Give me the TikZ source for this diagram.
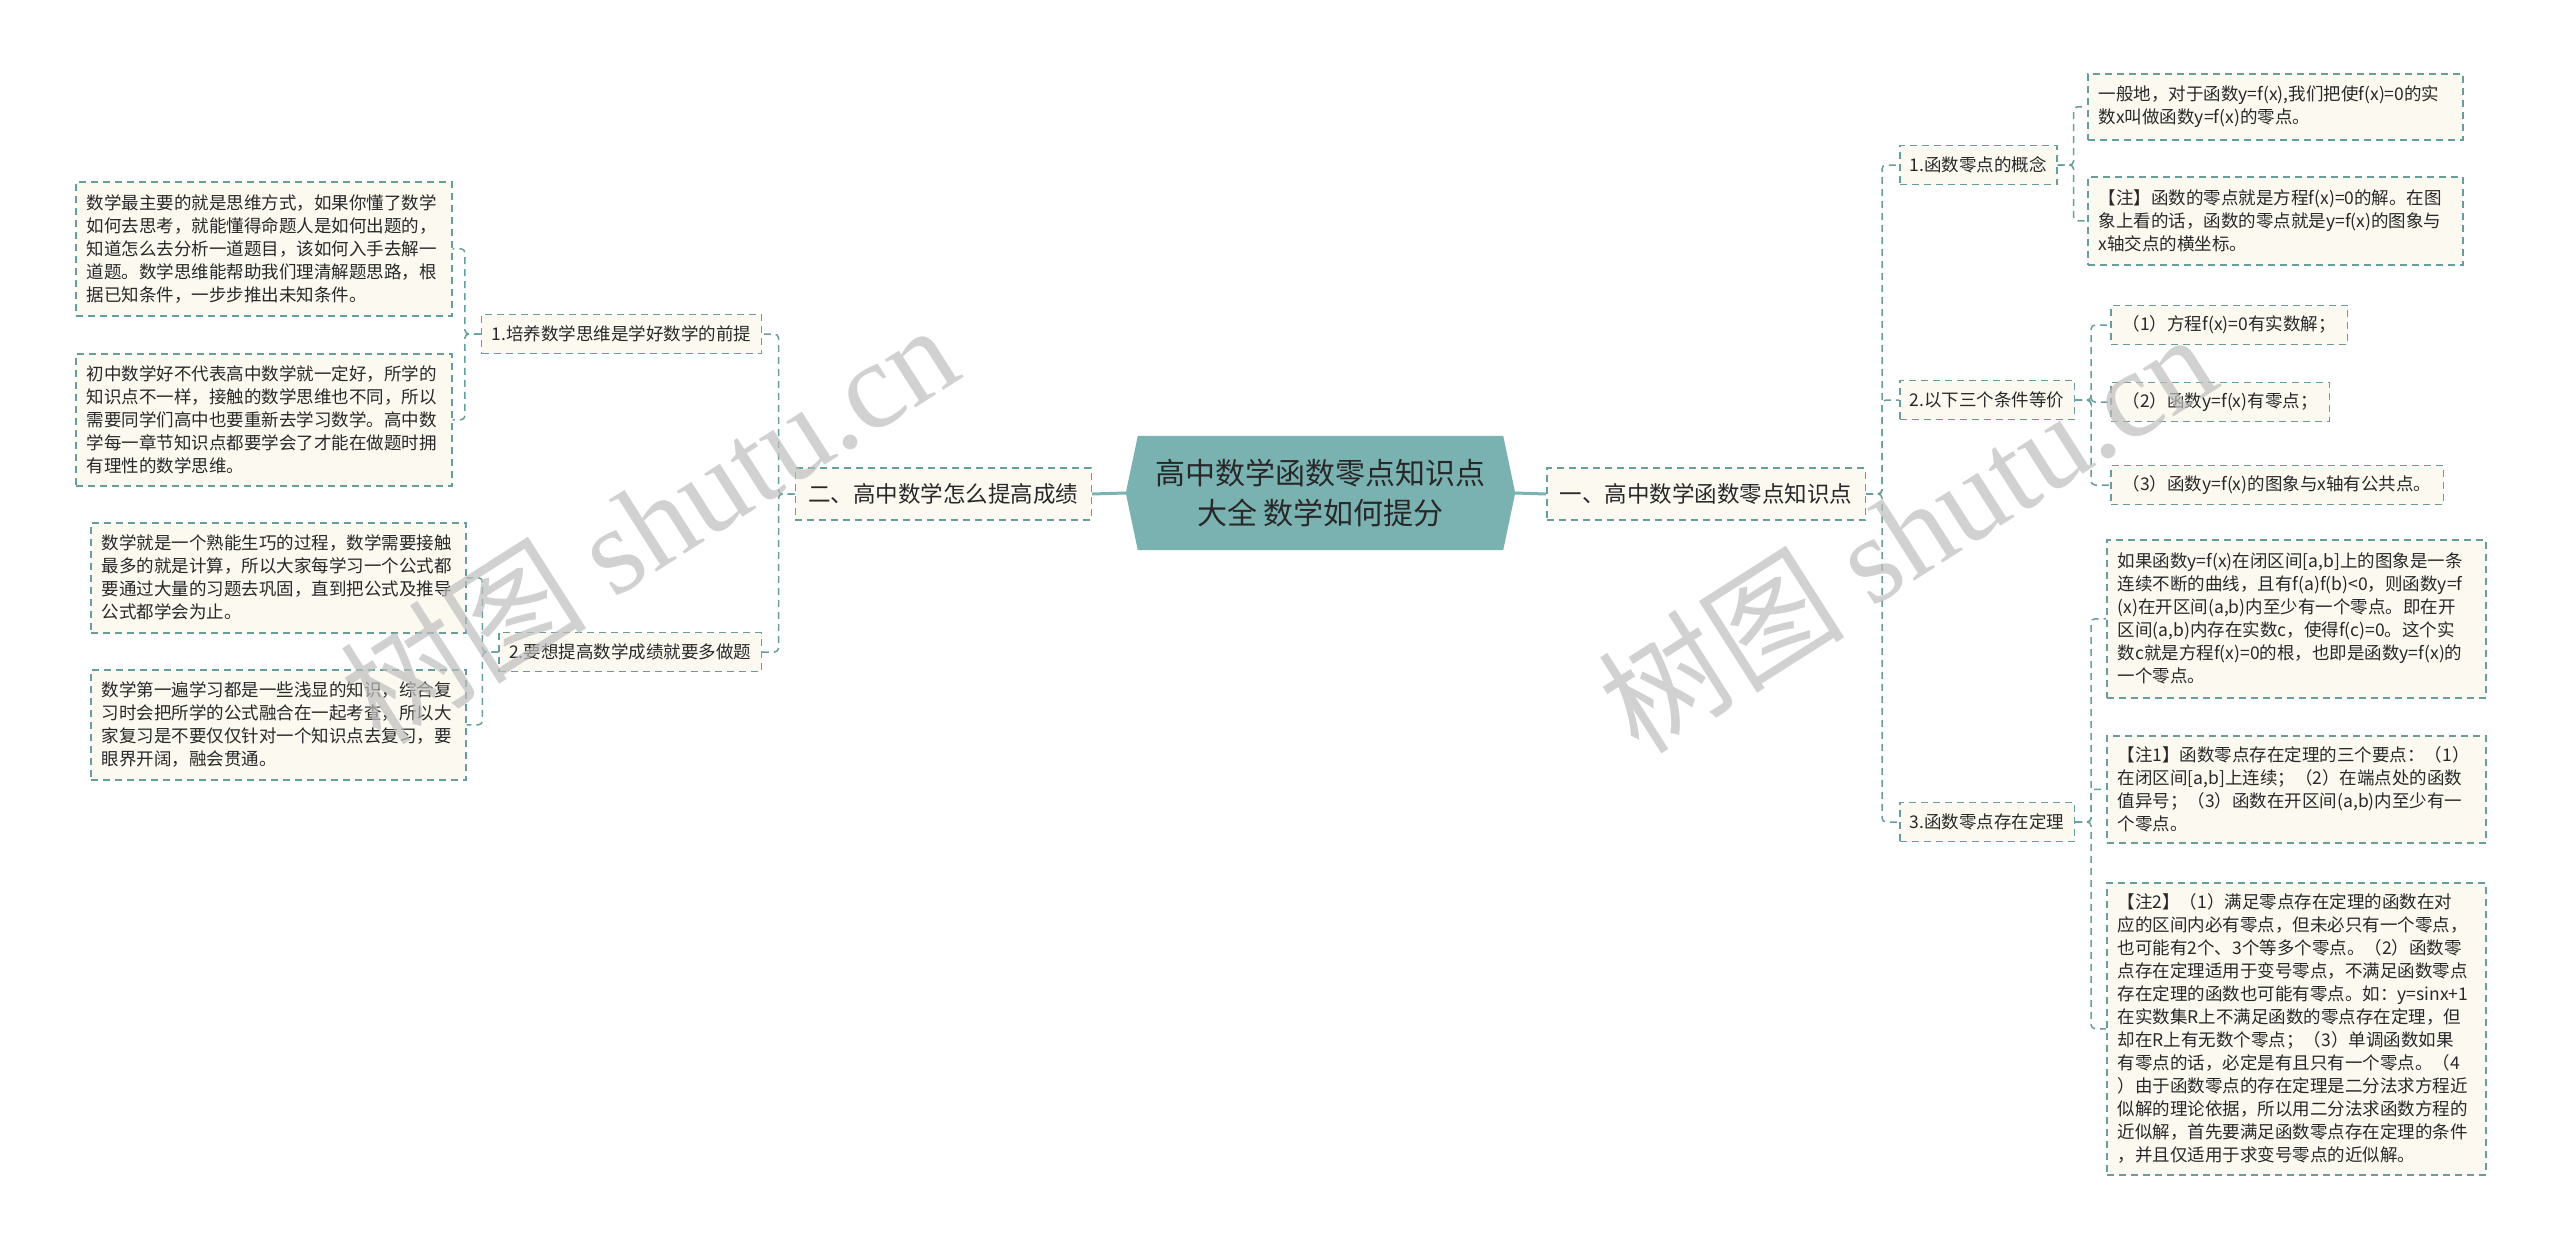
\documentclass[tikz,border=0pt]{standalone}
\usepackage{fontspec}
\setmainfont{Noto Sans CJK SC}
\newfontfamily\wmserif{Liberation Serif}
\usetikzlibrary{backgrounds}
\definecolor{boxfill}{RGB}{252,249,240}
\definecolor{edgec}{RGB}{104,157,157}
\definecolor{rootfill}{RGB}{122,178,178}
\definecolor{txt}{RGB}{40,40,40}
\definecolor{wmc}{RGB}{190,190,190}
\tikzset{
  box/.style={draw=edgec, line width=1.5pt, dash pattern=on 7pt off 5pt, fill=boxfill, text=txt, align=left},
  leaf/.style={box, anchor=north west, inner xsep=11pt, inner ysep=0pt, font=\fontsize{17.5}{23}\selectfont},
  mid/.style={box, inner xsep=10pt, inner ysep=0pt, minimum height=39pt, font=\fontsize{17.5}{23}\selectfont},
  small/.style={box, anchor=west, inner xsep=12pt, inner ysep=0pt, minimum height=39pt, font=\fontsize{17.5}{23}\selectfont},
  lvl/.style={box, inner xsep=13pt, inner ysep=0pt, minimum height=52pt, font=\fontsize{22.5}{28}\selectfont},
  link/.style={draw=edgec, line width=1.5pt, dash pattern=on 7pt off 5pt, rounded corners=4pt},
  rootlink/.style={draw=rootfill, line width=3pt},
  wmark/.style={text=wmc, text opacity=0.7, rotate=32.5, inner sep=0pt, font=\fontsize{124}{130}\selectfont}
}
\begin{document}
\begin{tikzpicture}[x=1pt,y=-1pt]
\useasboundingbox (0,0) rectangle (2560,1250);

% root
\node[inner sep=0pt, minimum width=389pt, minimum height=114pt, align=center, text=txt,
      font=\fontsize{30}{40}\selectfont] (root) at (1320.5,493) {高中数学函数零点知识点\\大全 数学如何提分};
\begin{scope}[on background layer]
\fill[rootfill] ([xshift=12pt]root.north west) -- ([xshift=-12pt]root.north east) -- (root.east)
  -- ([xshift=-12pt]root.south east) -- ([xshift=12pt]root.south west) -- (root.west) -- cycle;
\end{scope}

% level 1
\node[lvl, anchor=east] (er) at (1092,494) {二、高中数学怎么提高成绩};
\node[lvl, anchor=west] (yi) at (1546,494) {一、高中数学函数零点知识点};

% left branch
\node[mid, anchor=east] (b1) at (762,334) {1.培养数学思维是学好数学的前提};
\node[mid, anchor=east] (b2) at (762,652) {2.要想提高数学成绩就要多做题};

\node[leaf, text width=354pt, minimum height=134pt] (l1a) at (75,181) {数学最主要的就是思维方式，如果你懂了数学\\如何去思考，就能懂得命题人是如何出题的，\\知道怎么去分析一道题目，该如何入手去解一\\道题。数学思维能帮助我们理清解题思路，根\\据已知条件，一步步推出未知条件。};
\node[leaf, text width=354pt, minimum height=132pt] (l1b) at (75,353) {初中数学好不代表高中数学就一定好，所学的\\知识点不一样，接触的数学思维也不同，所以\\需要同学们高中也要重新去学习数学。高中数\\学每一章节知识点都要学会了才能在做题时拥\\有理性的数学思维。};
\node[leaf, text width=353pt, minimum height=110pt] (l2a) at (90,522) {数学就是一个熟能生巧的过程，数学需要接触\\最多的就是计算，所以大家每学习一个公式都\\要通过大量的习题去巩固，直到把公式及推导\\公式都学会为止。};
\node[leaf, text width=353pt, minimum height=110pt] (l2b) at (90,669) {数学第一遍学习都是一些浅显的知识，综合复\\习时会把所学的公式融合在一起考查，所以大\\家复习是不要仅仅针对一个知识点去复习，要\\眼界开阔，融会贯通。};

% right branch
\node[mid, anchor=west] (r1) at (1899,165) {1.函数零点的概念};
\node[mid, anchor=west] (r2) at (1899,400) {2.以下三个条件等价};
\node[mid, anchor=west] (r3) at (1899,822) {3.函数零点存在定理};

\node[leaf, text width=353pt, minimum height=66pt] (r1a) at (2087,73) {一般地，对于函数y=f(x),我们把使f(x)=0的实\\数x叫做函数y=f(x)的零点。};
\node[leaf, text width=353pt, minimum height=88pt] (r1b) at (2087,176) {【注】函数的零点就是方程f(x)=0的解。在图\\象上看的话，函数的零点就是y=f(x)的图象与\\x轴交点的横坐标。};

\node[small] (r2a) at (2110,325) {（1）方程f(x)=0有实数解；};
\node[small] (r2b) at (2110,402) {（2）函数y=f(x)有零点；};
\node[small] (r2c) at (2110,485) {（3）函数y=f(x)的图象与x轴有公共点。};

\node[leaf, text width=357pt, minimum height=158pt] (r3a) at (2106,539) {如果函数y=f(x)在闭区间[a,b]上的图象是一条\\连续不断的曲线，且有f(a)f(b)<0，则函数y=f\\(x)在开区间(a,b)内至少有一个零点。即在开\\区间(a,b)内存在实数c，使得f(c)=0。这个实\\数c就是方程f(x)=0的根，也即是函数y=f(x)的\\一个零点。};
\node[leaf, text width=357pt, minimum height=107pt] (r3b) at (2106,735) {【注1】函数零点存在定理的三个要点：（1）\\在闭区间[a,b]上连续；（2）在端点处的函数\\值异号；（3）函数在开区间(a,b)内至少有一\\个零点。};
\node[leaf, text width=357pt, minimum height=292pt] (r3c) at (2106,882) {【注2】（1）满足零点存在定理的函数在对\\应的区间内必有零点，但未必只有一个零点，\\也可能有2个、3个等多个零点。（2）函数零\\点存在定理适用于变号零点，不满足函数零点\\存在定理的函数也可能有零点。如：y=sinx+1\\在实数集R上不满足函数的零点存在定理，但\\却在R上有无数个零点；（3）单调函数如果\\有零点的话，必定是有且只有一个零点。（4\\）由于函数零点的存在定理是二分法求方程近\\似解的理论依据，所以用二分法求函数方程的\\近似解，首先要满足函数零点存在定理的条件\\，并且仅适用于求变号零点的近似解。};

% connectors
\draw[rootlink] (root.west) -- (er.east);
\draw[rootlink] (root.east) -- (yi.west);

\draw[link] (er.west) -- ++(-16,0) |- (b1.east);
\draw[link] (er.west) -- ++(-16,0) |- (b2.east);
\draw[link] (b1.west) -- ++(-16,0) |- (l1a.east);
\draw[link] (b1.west) -- ++(-16,0) |- (l1b.east);
\draw[link] (b2.west) -- ++(-16,0) |- (l2a.east);
\draw[link] (b2.west) -- ++(-16,0) |- (l2b.east);

\draw[link] (yi.east) -- ++(16,0) |- (r1.west);
\draw[link] (yi.east) -- ++(16,0) |- (r2.west);
\draw[link] (yi.east) -- ++(16,0) |- (r3.west);
\draw[link] (r1.east) -- ++(16,0) |- (r1a.west);
\draw[link] (r1.east) -- ++(16,0) |- (r1b.west);
\draw[link] (r2.east) -- ++(16,0) |- (r2a.west);
\draw[link] (r2.east) -- ++(16,0) |- (r2b.west);
\draw[link] (r2.east) -- ++(16,0) |- (r2c.west);
\draw[link] (r3.east) -- ++(16,0) |- (r3a.west);
\draw[link] (r3.east) -- ++(16,0) |- (r3b.west);
\draw[link] (r3.east) -- ++(16,0) |- (r3c.west);

% watermarks
\node[wmark] (wm1) at (648,522) {树图 {\wmserif shutu.cn}};
\node[wmark] (wm2) at (1906,531) {树图 {\wmserif shutu.cn}};
\end{tikzpicture}
\end{document}
